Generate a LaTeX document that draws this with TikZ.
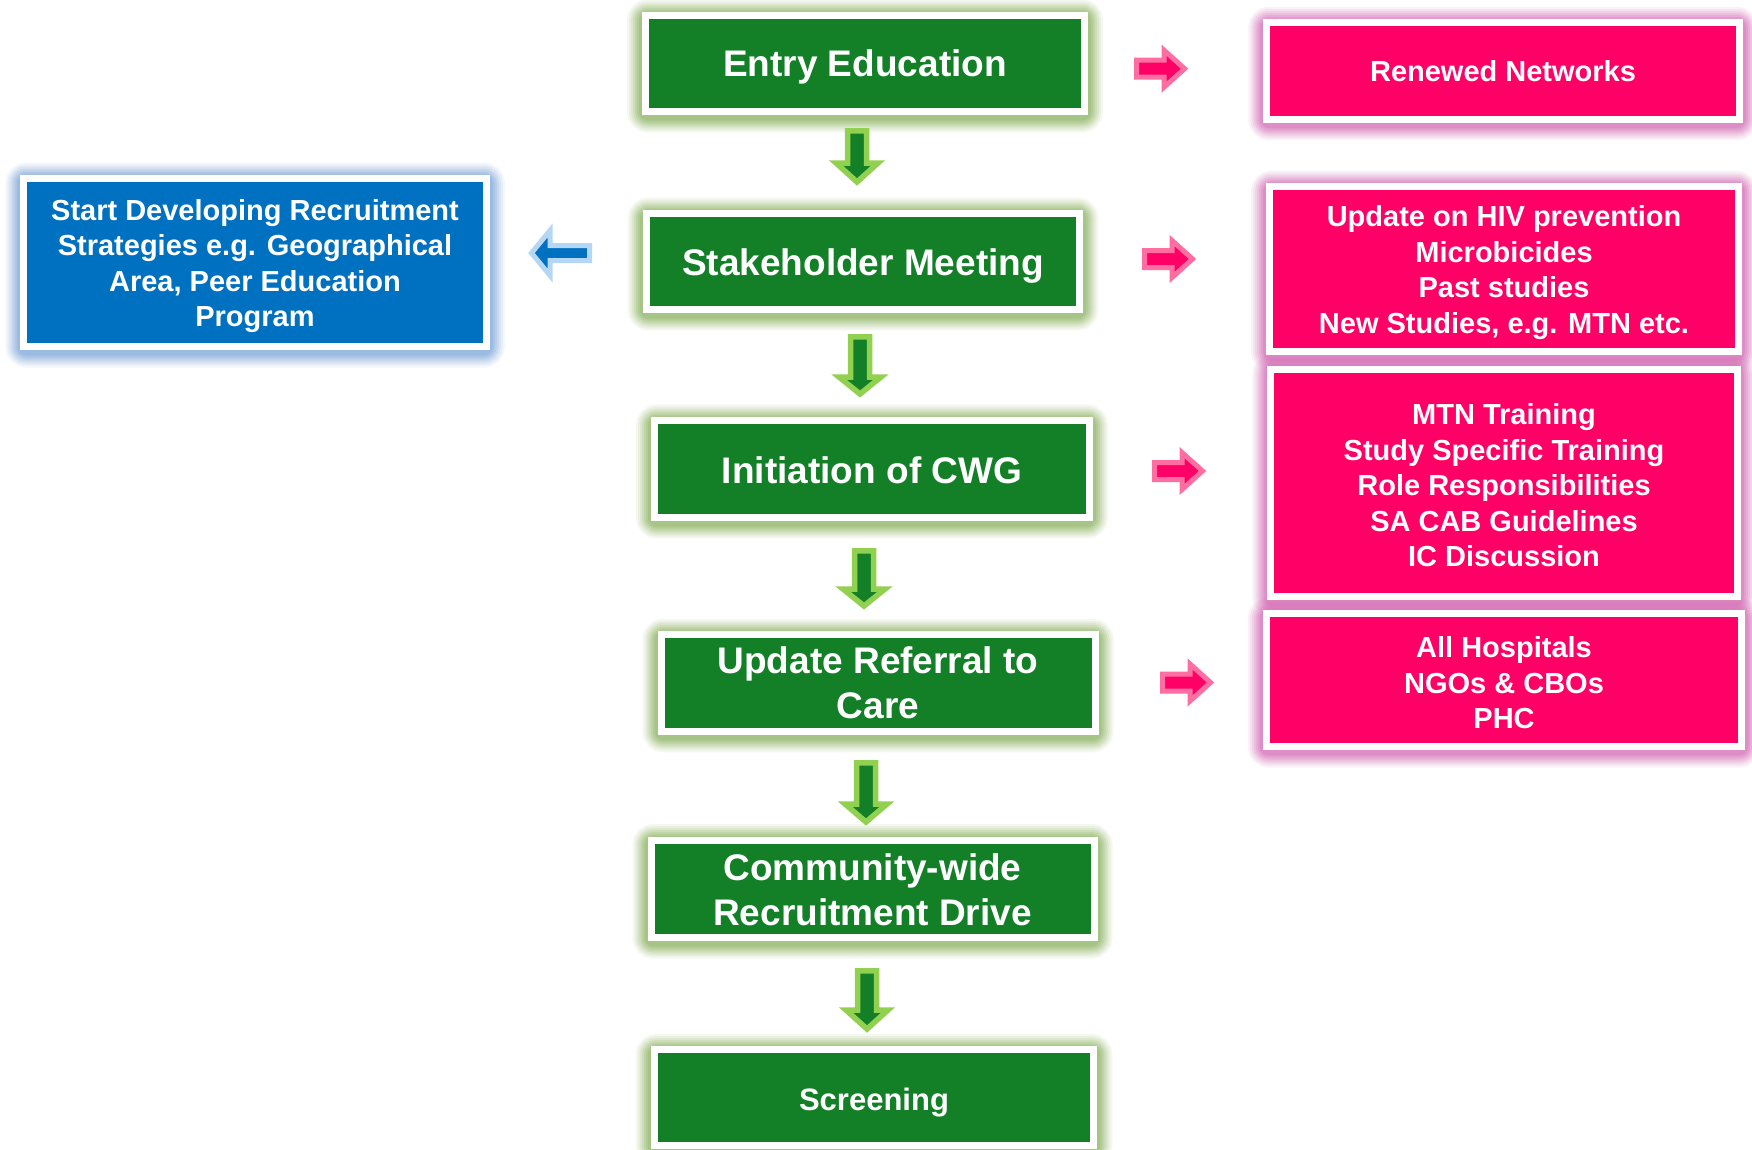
\documentclass[tikz,border=0pt]{standalone}
\usepackage{fontspec}
\setmainfont{Liberation Sans}
\usetikzlibrary{calc}
\definecolor{boxgreen}{RGB}{19,128,40}
\definecolor{glowgreen}{RGB}{128,172,82}
\definecolor{arrowgreen}{RGB}{146,208,80}
\definecolor{boxblue}{RGB}{0,112,192}
\definecolor{glowblue}{RGB}{115,160,215}
\definecolor{arrowblue}{RGB}{180,215,245}
\definecolor{boxpink}{RGB}{255,0,102}
\definecolor{glowpink}{RGB}{210,95,175}
\definecolor{arrowpink}{RGB}{255,110,160}
\pgfdeclarelayer{paper}
\pgfdeclarelayer{bg}
\pgfsetlayers{paper,bg,main}
\newcommand{\glowbox}[2]{%
  \begin{pgfonlayer}{bg}
  \foreach \w/\o in {30/0.08,26/0.1,22/0.12,18/0.15,14/0.18,10/0.2,6/0.24}{
    \draw[line width=\w pt, draw=#2, opacity=\o, rounded corners=6pt] ([yshift=-2.5pt]#1.north west) rectangle ([yshift=-2.5pt]#1.south east);}
  \end{pgfonlayer}}
\newcommand{\tup}[1]{\rule{0pt}{#1pt}}
\tikzset{
  basebox/.style={rectangle, draw=white, line width=7pt, inner sep=0pt, text=white, align=center},
  gbox/.style={basebox, fill=boxgreen, font=\fontsize{37}{45}\selectfont\bfseries},
  pbox/.style={basebox, fill=boxpink, font=\fontsize{29}{35.5}\selectfont\bfseries},
  bbox/.style={basebox, fill=boxblue, font=\fontsize{29}{35.5}\selectfont\bfseries},
  greenarr/.style={fill=boxgreen, draw=arrowgreen, line width=5.5pt, line join=miter},
  pinkarr/.style={fill=boxpink, draw=arrowpink, line width=5pt, line join=miter},
  bluearr/.style={fill=boxblue, draw=arrowblue, line width=5pt, line join=miter},
  pics/downarr/.style n args={2}{code={
    \draw[greenarr] (-9.5,2.8) -- (9.5,2.8) -- (9.5,#1) -- (21,#1) -- (0,#2) -- (-21,#1) -- (-9.5,#1) -- cycle;}},
  pics/rightarr/.style={code={
    \draw[pinkarr] (2.5,-8.5) -- (30,-8.5) -- (30,-18.5) -- (50.5,0) -- (30,18.5) -- (30,8.5) -- (2.5,8.5) -- cycle;}},
  pics/leftarr/.style={code={
    \draw[bluearr] (-2.5,-7.5) -- (-42,-7.5) -- (-42,-22.5) -- (-60.5,0) -- (-42,22.5) -- (-42,7.5) -- (-2.5,7.5) -- cycle;}}
}
\begin{document}
\begin{tikzpicture}[x=1pt,y=-1pt]
\begin{pgfonlayer}{paper}
\fill[white] (0,0) rectangle (1752,1149);
\end{pgfonlayer}
\useasboundingbox (0,0) rectangle (1752,1149);

% main green column
\node[gbox, minimum width=439, minimum height=96] (entry) at (865,63.5) {\tup{34}Entry Education};
\node[gbox, minimum width=433.5, minimum height=96] (stake) at (863,261.5) {\tup{36}Stakeholder Meeting};
\node[gbox, minimum width=435, minimum height=97] (cwg) at (872,469) {\tup{29}Initiation of CWG};
\node[gbox, minimum width=434, minimum height=96.5] (referral) at (878,683) {Update Referral to\\Care};
\node[gbox, minimum width=443, minimum height=97.5] (drive) at (872.5,888.8) {\tup{28.5}Community-wide\\Recruitment Drive};
\node[gbox, minimum width=439.5, minimum height=95.5, font=\fontsize{31}{38}\selectfont\bfseries] (screen) at (874,1097.7) {\tup{33}Screening};

% blue box
\node[bbox, minimum width=462.5, minimum height=168] (strat) at (255,262.5) {\tup{28}Start Developing Recruitment\\Strategies e.g. Geographical\\Area, Peer Education\\Program};

% pink boxes
\node[pbox, minimum width=472.5, minimum height=96.5] (renew) at (1503,71) {Renewed Networks};
\node[pbox, minimum width=469, minimum height=165] (hiv) at (1504,269) {\tup{28}Update on HIV prevention\\Microbicides\\Past studies\\New Studies, e.g. MTN etc.};
\node[pbox, minimum width=466.5, minimum height=226.5] (mtn) at (1504,483) {\tup{25.5}MTN Training\\Study Specific Training\\Role Responsibilities\\SA CAB Guidelines\\IC Discussion};
\node[pbox, minimum width=475.5, minimum height=133] (hosp) at (1504,680) {\tup{26.5}All Hospitals\\NGOs \& CBOs\\PHC};

% glows
\foreach \n in {entry,stake,cwg,referral,drive,screen}{\glowbox{\n}{glowgreen}}
\glowbox{strat}{glowblue}
\foreach \n in {renew,hiv,mtn,hosp}{\glowbox{\n}{glowpink}}

% down arrows between green boxes
\coordinate (d1) at (857,128);
\coordinate (d2) at (860,334);
\coordinate (d3) at (864,548);
\coordinate (d4) at (866,760);
\coordinate (d5) at (867,968);
\pic at (d1) {downarr={35}{54}};
\pic at (d2) {downarr={43}{60}};
\pic at (d3) {downarr={41}{58}};
\pic at (d4) {downarr={44}{62}};
\pic at (d5) {downarr={42}{61}};

% right arrows to pink boxes
\coordinate (r1) at (1134,68.7);
\coordinate (r2) at (1142,259);
\coordinate (r3) at (1152,471);
\coordinate (r4) at (1160,682.5);
\pic at (r1) {rightarr};
\pic at (r2) {rightarr};
\pic at (r3) {rightarr};
\pic at (r4) {rightarr};

% left arrow to blue box
\coordinate (l1) at (592,253);
\pic at (l1) {leftarr};
\end{tikzpicture}
\end{document}
